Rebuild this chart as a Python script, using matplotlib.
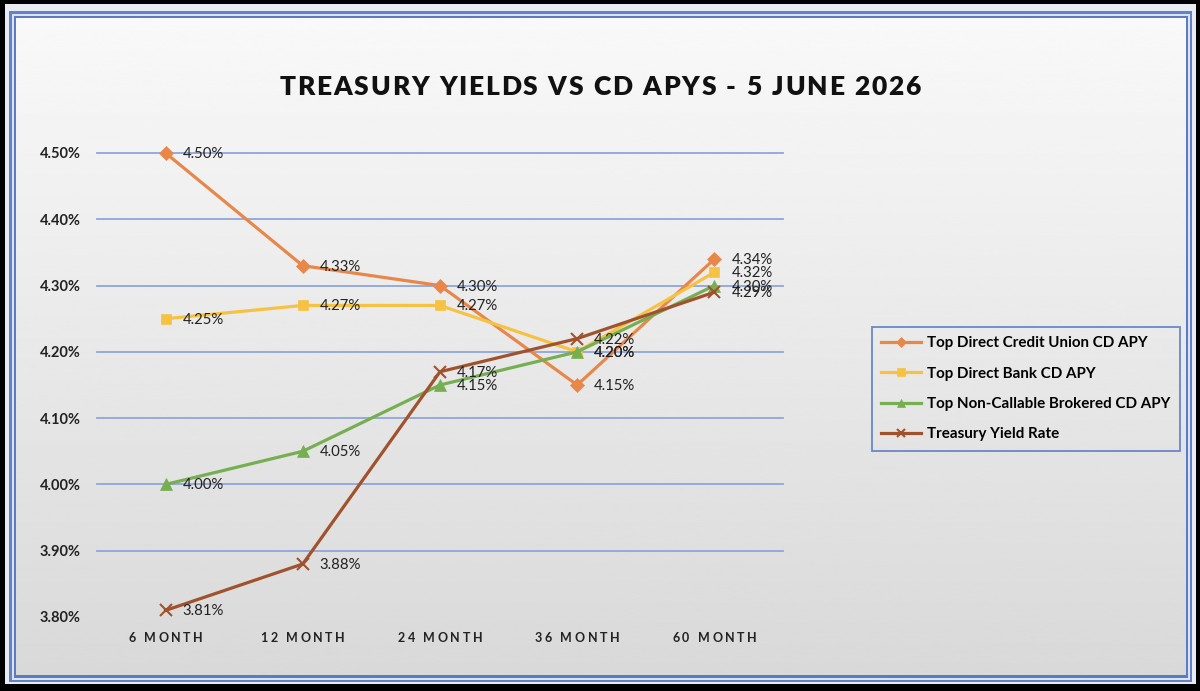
import matplotlib
matplotlib.use("Agg")
import matplotlib.pyplot as plt
import numpy as np
from matplotlib.patches import Rectangle

plt.rcParams['font.family'] = ['Lato', 'DejaVu Sans']

# data
terms = ["6 MONTH", "12 MONTH", "24 MONTH", "36 MONTH", "60 MONTH"]
credit_union = [4.50, 4.33, 4.30, 4.15, 4.34]
direct_bank = [4.25, 4.27, 4.27, 4.20, 4.32]
brokered = [4.00, 4.05, 4.15, 4.20, 4.30]
treasury = [3.81, 3.88, 4.17, 4.22, 4.29]
y_ticks = [3.80, 3.90, 4.00, 4.10, 4.20, 4.30, 4.40, 4.50]

series = [
    ("Top Direct Credit Union CD APY", credit_union, "#E8874A", "D", 7),
    ("Top Direct Bank CD APY", direct_bank, "#F6C243", "s", 7.5),
    ("Top Non-Callable Brokered CD APY", brokered, "#76AE52", "^", 8),
    ("Treasury Yield Rate", treasury, "#A0522D", "x", 8),
]

W, H = 1200, 691
fig = plt.figure(figsize=(W / 100, H / 100), dpi=100, facecolor="black")

# background / frame in pixel coords
bg = fig.add_axes([0, 0, 1, 1], zorder=0)
bg.set_xlim(0, W)
bg.set_ylim(H, 0)
bg.axis("off")
bg.add_patch(Rectangle((5, 4), 1191, 680, facecolor="#e9ecf3", edgecolor="none"))
bg.add_patch(Rectangle((9, 11), 1183, 671, facecolor="#6383c9", edgecolor="none"))
bg.add_patch(Rectangle((11.5, 13.5), 1178, 666, facecolor="#dbe3f5", edgecolor="none"))
bg.add_patch(Rectangle((13.5, 15.5), 1174, 662, facecolor="#5c7bc0", edgecolor="none"))
grad = np.linspace(0.975, 0.85, 256).reshape(-1, 1)
bg.imshow(grad, cmap="gray", vmin=0, vmax=1, aspect="auto",
          extent=(16, 1186, 675, 18), zorder=2)

renderer = fig.canvas.get_renderer()


def spaced_text(xc, yc, s, gap, **kw):
    texts = []
    widths = []
    for c in s:
        t = bg.text(0, yc, c, ha="left", va="center", zorder=5, **kw)
        texts.append(t)
        if c == " ":
            widths.append(kw.get("fontsize", 10) * 100 / 72 * 0.25)
        else:
            widths.append(t.get_window_extent(renderer).width)
    total = sum(widths) + gap * (len(s) - 1)
    x = xc - total / 2
    for t, w in zip(texts, widths):
        t.set_x(x)
        x += w + gap


spaced_text(600, 87, "TREASURY YIELDS VS CD APYS - 5 JUNE 2026", 1.8,
            fontsize=19, fontweight="heavy", color="#111111")

# main chart
left, right, top, bottom = 97, 783, 153, 617
ax = fig.add_axes([left / W, 1 - bottom / H, (right - left) / W, (bottom - top) / H], zorder=3)
ax.patch.set_alpha(0)
x = np.arange(len(terms))
ax.set_xlim(-0.5, len(terms) - 0.5)
ax.set_ylim(3.80, 4.50)
ax.set_yticks(y_ticks)
ax.set_yticklabels([f"{v:.2f}%" for v in y_ticks], fontsize=10.5, fontweight="bold", color="#222222")
ax.tick_params(axis="y", length=0, pad=11.5)
ax.set_xticks([])
for v in y_ticks[1:]:
    ax.axhline(v, color="#8FA6D8", lw=1.3, zorder=1, clip_on=False)
for s in ax.spines.values():
    s.set_visible(False)

for name, vals, col, mk, ms in series:
    ax.plot(x, vals, color=col, lw=2.3, marker=mk, markersize=ms,
            markeredgewidth=1.5 if mk == "x" else 0.5, label=name, zorder=4, clip_on=False)
    for xi, v in zip(x, vals):
        ax.annotate(f"{v:.2f}%", (xi, v), xytext=(17, -1), textcoords="offset pixels",
                    va="center", ha="left", fontsize=10.7, color="#222222",
                    zorder=6, annotation_clip=False)

# category labels with letter spacing
for xi, lab in zip(x, terms):
    px = ax.transData.transform((xi, 0))[0]
    spaced_text(px, 638, lab, 2.6, fontsize=9, fontweight="bold", color="#222222")

leg = fig.legend(loc="upper left", bbox_to_anchor=(872 / W, 1 - 327 / H),
                 borderaxespad=0, prop={"weight": "bold", "size": 10.9},
                 frameon=True, fancybox=False, labelspacing=1.08, handlelength=2.6,
                 handletextpad=0.4, borderpad=0.62, markerscale=0.75)
leg.get_frame().set_edgecolor("#4A6FC0")
leg.get_frame().set_linewidth(1.3)
leg.get_frame().set_facecolor("none")
leg.set_zorder(7)

fig.savefig("out.png", dpi=100, facecolor="black")
